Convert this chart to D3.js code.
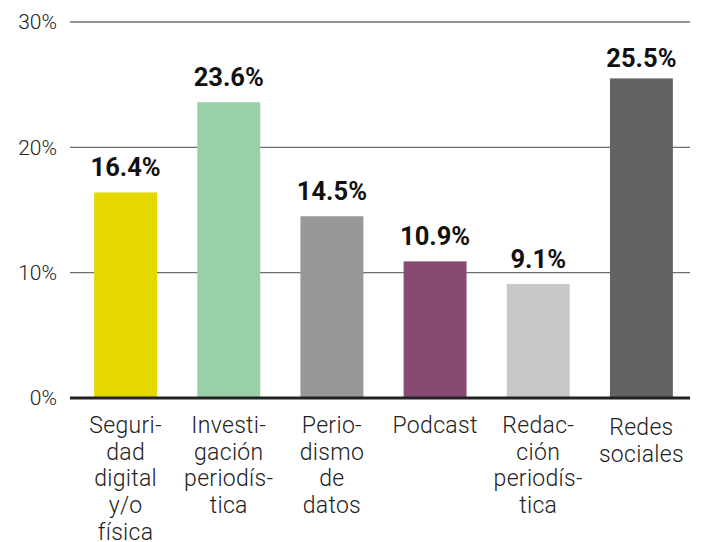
<!DOCTYPE html>
<html><head><meta charset="utf-8">
<script src="https://cdn.jsdelivr.net/npm/d3@7"></script>
<style>body{margin:0;background:#fff}svg{display:block}</style>
</head><body>
<script>
const categories = ["Seguridad digital y/o física","Investigación periodística","Periodismo de datos","Podcast","Redacción periodística","Redes sociales"];
const labelLines = [["Seguri-","dad","digital","y/o","física"],["Investi-","gación","periodís-","tica"],["Perio-","dismo","de","datos"],["Podcast"],["Redac-","ción","periodís-","tica"],["Redes","sociales"]];
const values = [16.4, 23.6, 14.5, 10.9, 9.1, 25.5];
const colors = ["#e4d800","#99d0a8","#989898","#874a72","#c8c8ca","#636363"];
const yTicks = [0, 10, 20, 30];

const W = 703, H = 542;
const svg = d3.select("body").append("svg").attr("width", W).attr("height", H);
const font = "Roboto, 'Noto Sans', sans-serif";

const x = d3.scaleBand().domain(categories).range([74, 693]).paddingInner(0.39).paddingOuter(0.195);
const y = d3.scaleLinear().domain([0, 30]).range([398, 22]);

// gridlines
svg.append("g").selectAll("line").data(yTicks.filter(d => d > 0)).join("line")
  .attr("x1", 70).attr("x2", 690)
  .attr("y1", d => y(d)).attr("y2", d => y(d))
  .attr("stroke", "#707070").attr("stroke-width", 1.3);

// y tick labels
svg.append("g").selectAll("text").data(yTicks).join("text")
  .attr("x", 57).attr("y", d => y(d))
  .attr("dy", "0.35em").attr("text-anchor", "end")
  .attr("font-family", font).attr("font-weight", 300).attr("font-size", 21)
  .attr("fill", "#222").text(d => d + "%");

// bars
svg.append("g").selectAll("rect").data(values).join("rect")
  .attr("x", (d, i) => x(categories[i])).attr("width", x.bandwidth())
  .attr("y", d => y(d)).attr("height", d => y(0) - y(d))
  .attr("fill", (d, i) => colors[i]);

// baseline
svg.append("line").attr("x1", 70).attr("x2", 690).attr("y1", y(0)).attr("y2", y(0))
  .attr("stroke", "#222").attr("stroke-width", 3);

// value labels
svg.append("g").selectAll("text").data(values).join("text")
  .attr("x", (d, i) => x(categories[i]) + x.bandwidth() / 2)
  .attr("y", (d, i) => y(d) - (i === values.length - 1 ? 11 : 16))
  .attr("text-anchor", "middle")
  .attr("font-family", font).attr("font-weight", 700).attr("font-size", 25.5)
  .attr("fill", "#111").text(d => d.toFixed(1) + "%");

// category labels
const cl = svg.append("g").selectAll("text").data(categories).join("text")
  .attr("text-anchor", "middle")
  .attr("font-family", font).attr("font-weight", 300).attr("font-size", 23)
  .attr("letter-spacing", 0.3)
  .attr("fill", "#222");
cl.each(function(c, i) {
  const cx = x(c) + x.bandwidth() / 2;
  const y0 = i === categories.length - 1 ? 435 : 433;
  d3.select(this).selectAll("tspan").data(labelLines[i]).join("tspan")
    .attr("x", cx).attr("y", (d, j) => y0 + j * 26.7).text(d => d);
});
</script>
</body></html>
